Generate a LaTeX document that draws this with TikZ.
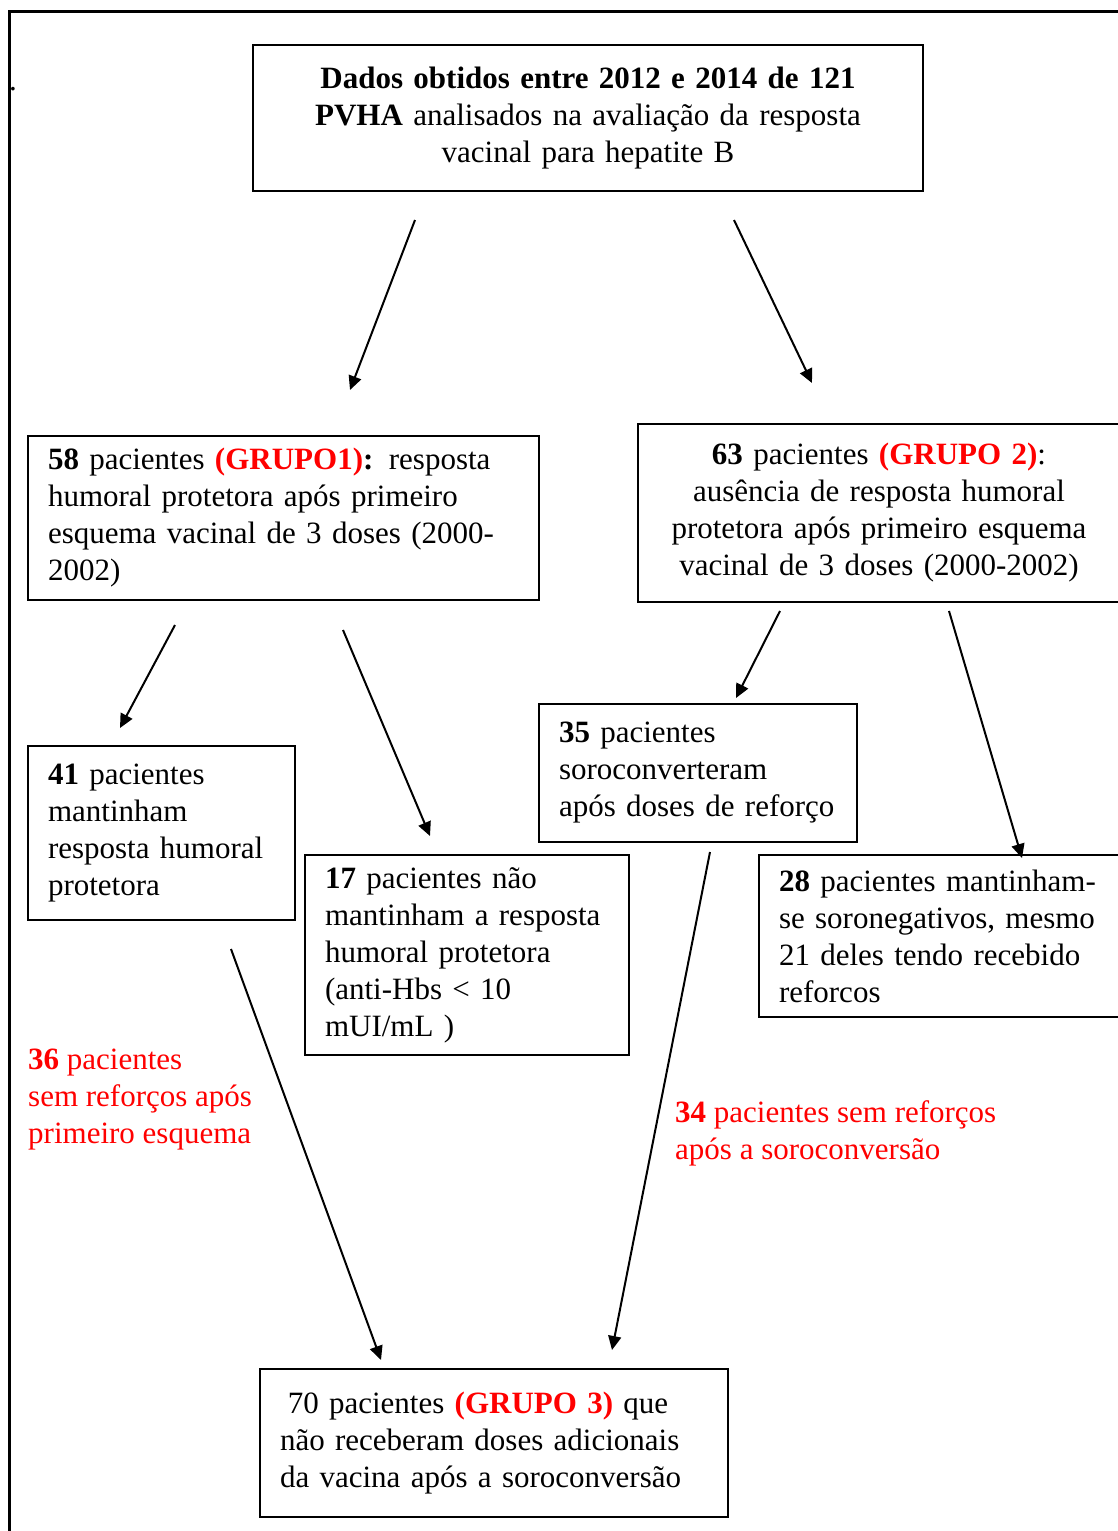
\documentclass[tikz,border=0pt]{standalone}
\usepackage{fontspec}
\setmainfont{Liberation Serif}
\usepackage{xcolor}
\usepackage{tikz}
\usetikzlibrary{arrows.meta}

\hyphenpenalty=10000
\exhyphenpenalty=10000

\tikzset{
	caixa/.style={draw, line width=2pt, inner xsep=20pt, inner ysep=4pt, align=left},
	seta/.style={-{Triangle[length=14pt,width=13pt]}, line width=2pt},
	nota/.style={inner sep=0pt, anchor=west, align=left, text=red}
}
\newcommand{\verm}[1]{\textcolor{red}{\textbf{#1}}}

\begin{document}
\begin{tikzpicture}[x=1pt, y=-1pt, font=\fontsize{31}{37}\selectfont]
		\useasboundingbox (0,0) rectangle (1118,1531);
		\draw[line width=3pt] (9,1540) -- (9,11) -- (1130,11);
		\node[inner sep=0pt, anchor=base west] (ponto) at (9,90) {.};

		\node[caixa, align=center, minimum width=670pt, minimum height=146pt, text width=630pt] (topo) at (588,118)
			{\textbf{Dados obtidos entre 2012 e 2014 de 121}\\ \textbf{PVHA} analisados na avaliação da resposta\\ vacinal para hepatite B};

		\node[caixa, minimum width=511pt, minimum height=164pt, text width=471pt] (grupo1) at (283.5,518)
			{\textbf{58} pacientes \verm{(GRUPO1)}\textbf{:} resposta\\ humoral protetora após primeiro\\ esquema vacinal de 3 doses (2000-\\ 2002)};
		\node[caixa, align=center, minimum width=482pt, minimum height=178pt, text width=442pt] (grupo2) at (879,513)
			{\textbf{63} pacientes \verm{(GRUPO 2)}:\\ ausência de resposta humoral\\ protetora após primeiro esquema\\ vacinal de 3 doses (2000-2002)};

		\node[caixa, minimum width=267pt, minimum height=174pt, text width=227pt] (mant) at (161.5,833)
			{\textbf{41} pacientes\\ mantinham\\ resposta humoral\\ protetora};
		\node[caixa, minimum width=324pt, minimum height=200pt, text width=284pt] (naomant) at (467,955)
			{\textbf{17} pacientes não\\ mantinham a resposta\\ humoral protetora\\ (anti-Hbs < 10\\ mUI/mL )};
		\node[caixa, minimum width=318pt, minimum height=138pt, text width=278pt] (soro) at (698,773)
			{\textbf{35} pacientes\\ soroconverteram\\ após doses de reforço};
		\node[caixa, minimum width=381pt, minimum height=162pt, text width=341pt] (soroneg) at (949.5,936)
			{\textbf{28} pacientes mantinham-\\ se soronegativos, mesmo\\ 21 deles tendo recebido\\ reforcos};

		\node[nota] (semref1) at (28,1100)
			{\textbf{36} pacientes\\ sem reforços após\\ primeiro esquema};
		\node[nota] (semref2) at (675,1133)
			{\textbf{34} pacientes sem reforços\\ após a soroconversão};

		\node[caixa, minimum width=468pt, minimum height=148pt, text width=428pt] (grupo3) at (494,1443)
			{\hspace*{0.25em}70 pacientes \verm{(GRUPO 3)} que\\ não receberam doses adicionais\\ da vacina após a soroconversão};

		% pontas soltas das setas
		\coordinate (t1) at (415,220);  \coordinate (h1) at (350,390);
		\coordinate (t2) at (734,220);  \coordinate (h2) at (812,383);
		\coordinate (t3) at (175,625);  \coordinate (h3) at (120,728);
		\coordinate (t4) at (343,630);  \coordinate (h4) at (430,836);
		\coordinate (t5) at (780,611);  \coordinate (h5) at (736,698);
		\coordinate (t6) at (949,611);  \coordinate (h6) at (1022,858);
		\coordinate (t7) at (231,949);  \coordinate (h7) at (381,1360);
		\coordinate (t8) at (710,852);  \coordinate (h8) at (612,1350);

		\draw[seta] (t1) -- (h1);
		\draw[seta] (t2) -- (h2);
		\draw[seta] (t3) -- (h3);
		\draw[seta] (t4) -- (h4);
		\draw[seta] (t5) -- (h5);
		\draw[seta] (t6) -- (h6);
		\draw[seta] (t7) -- (h7);
		\draw[seta] (t8) -- (h8);
\end{tikzpicture}
\end{document}
